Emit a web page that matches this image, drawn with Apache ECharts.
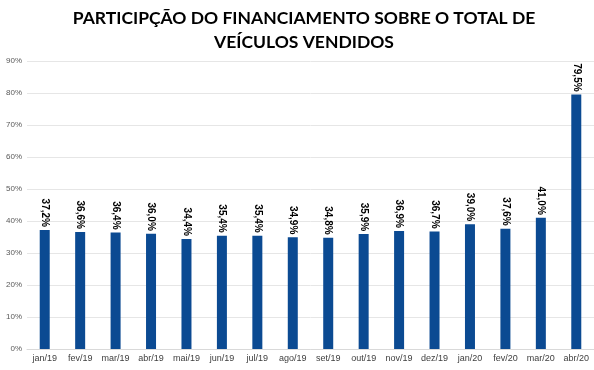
<!DOCTYPE html>
<html>
<head>
<meta charset="utf-8">
<script src="https://cdn.jsdelivr.net/npm/echarts@6/dist/echarts.min.js"></script>
<style>
html,body{margin:0;padding:0;background:#fff;}
#chart{width:594px;height:370px;}
</style>
</head>
<body>
<div id="chart"></div>
<script>
const categories = ['jan/19','fev/19','mar/19','abr/19','mai/19','jun/19','jul/19','ago/19','set/19','out/19','nov/19','dez/19','jan/20','fev/20','mar/20','abr/20'];
const values = [37.2, 36.6, 36.4, 36.0, 34.4, 35.4, 35.4, 34.9, 34.8, 35.9, 36.9, 36.7, 39.0, 37.6, 41.0, 79.5];
const yTicks = [0, 10, 20, 30, 40, 50, 60, 70, 80, 90];
const titleText = 'PARTICIPÇÃO DO FINANCIAMENTO SOBRE O TOTAL DE\nVEÍCULOS VENDIDOS';

const chart = echarts.init(document.getElementById('chart'), null, {renderer: 'canvas'});
chart.setOption({
  animation: false,
  backgroundColor: '#fff',
  title: {
    text: titleText,
    left: 299,
    top: 1,
    textAlign: 'center',
    textStyle: {fontFamily: 'Lato', fontWeight: 'bold', fontSize: 17.5, lineHeight: 24, color: '#000'}
  },
  grid: {left: 27, right: 0, top: 61, bottom: 21, containLabel: false},
  xAxis: {
    type: 'category',
    data: categories,
    axisLine: {show: true, lineStyle: {color: '#d9d9d9'}},
    axisTick: {show: false},
    axisLabel: {color: '#404040', fontSize: 9, fontFamily: 'Liberation Sans', margin: 5, interval: 0}
  },
  yAxis: {
    type: 'value',
    min: yTicks[0],
    max: yTicks[yTicks.length - 1],
    interval: 10,
    axisLine: {show: false},
    axisTick: {show: false},
    splitLine: {lineStyle: {color: '#e6e6e6'}},
    axisLabel: {color: '#595959', fontSize: 8, fontFamily: 'Liberation Sans', margin: 5, formatter: v => v + '%'}
  },
  series: [{
    type: 'bar',
    data: values,
    barWidth: 10,
    itemStyle: {color: '#0b4a92'},
    label: {
      show: true,
      position: 'top',
      rotate: -90,
      align: 'right',
      verticalAlign: 'middle',
      distance: 3,
      fontFamily: 'Liberation Sans',
      fontWeight: 'bold',
      fontSize: 10,
      color: '#000',
      formatter: p => p.value.toFixed(1).replace('.', ',') + '%'
    }
  }]
});
</script>
</body>
</html>
